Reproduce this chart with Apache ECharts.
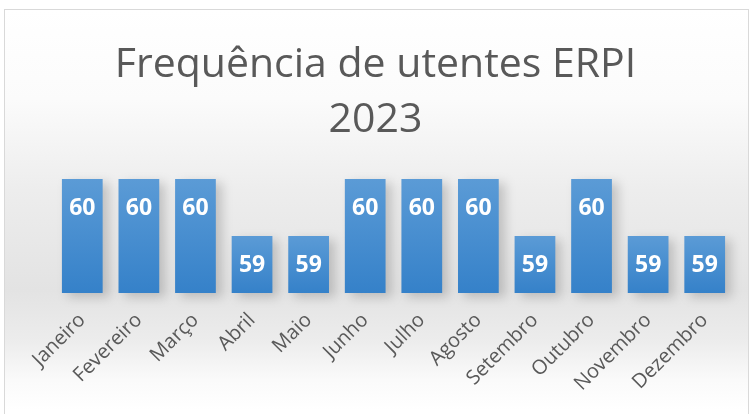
<!DOCTYPE html>
<html>
<head>
<meta charset="utf-8">
<script src="https://cdn.jsdelivr.net/npm/echarts@6/dist/echarts.min.js"></script>
<style>
  html, body { margin: 0; padding: 0; background: #fff; }
  .frame {
    position: absolute; left: 4px; top: 9px; width: 745px; height: 410px;
    border: 1px solid #d9d9d9; box-sizing: border-box;
    background: linear-gradient(to bottom, #ffffff 0px, #fbfbfb 90px, #ededed 180px, #e3e3e3 280px, #ececec 330px, #fafafa 370px, #ffffff 400px);
  }
  #chart { position: absolute; left: 0; top: 0; width: 751px; height: 414px; }
</style>
</head>
<body>
<div class="frame"></div>
<div id="chart"></div>
<script>
// dados
const meses = ['Janeiro', 'Fevereiro', 'Março', 'Abril', 'Maio', 'Junho', 'Julho', 'Agosto', 'Setembro', 'Outubro', 'Novembro', 'Dezembro']
const utentes = [60, 60, 60, 59, 59, 60, 60, 60, 59, 60, 59, 59]
const titulo = 'Frequência de utentes ERPI\n2023'

const chart = echarts.init(document.getElementById('chart'))

chart.setOption({
  animation: false,
  title: {
    text: titulo,
    left: 'center',
    top: 33,
    textStyle: {
      fontFamily: 'Open Sans',
      fontWeight: 400,
      fontSize: 41,
      lineHeight: 55,
      color: '#595959'
    }
  },
  grid: {
    left: 54,
    right: 18,
    top: 179,
    bottom: 121
  },
  xAxis: {
    type: 'category',
    data: meses,
    axisLine: { show: false },
    axisTick: { show: false },
    axisLabel: {
      interval: 0,
      rotate: 45,
      margin: 24,
      fontFamily: 'Open Sans',
      fontSize: 20,
      color: '#595959'
    }
  },
  yAxis: {
    type: 'value',
    min: 58,
    max: 60,
    show: false
  },
  series: [
    {
      type: 'bar',
      data: utentes,
      barWidth: '72%',
      itemStyle: {
        color: new echarts.graphic.LinearGradient(0, 0, 0, 1, [
          { offset: 0, color: '#5b9bd6' },
          { offset: 1, color: '#3581c9' }
        ]),
        shadowColor: 'rgba(0,0,0,0.18)',
        shadowBlur: 10,
        shadowOffsetX: 6,
        shadowOffsetY: 4
      },
      label: {
        show: true,
        position: 'insideTop',
        distance: 18,
        fontFamily: 'Open Sans',
        fontWeight: 'bold',
        fontSize: 23,
        color: '#ffffff'
      }
    }
  ]
})
</script>
</body>
</html>
